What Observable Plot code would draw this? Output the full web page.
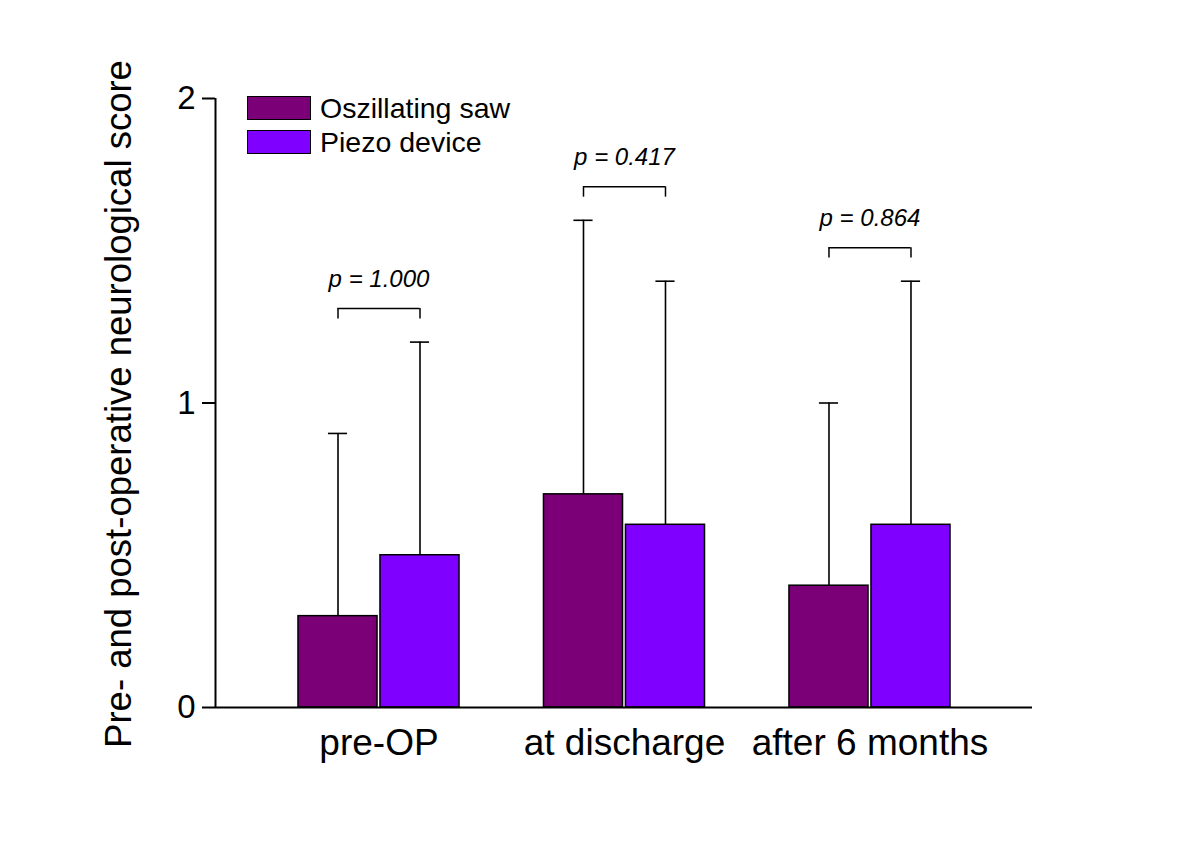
<!DOCTYPE html>
<html><head><meta charset="utf-8">
<script src="https://cdn.jsdelivr.net/npm/d3@7"></script>
<script src="https://cdn.jsdelivr.net/npm/@observablehq/plot@0.6"></script>
<style>
body{margin:0;background:#fff;}
#wrap{position:relative;width:1200px;height:848px;font-family:"Liberation Sans",Arial,sans-serif;}
#legend{position:absolute;left:247px;top:91px;}
.item{display:flex;align-items:center;height:34px;font-size:28.5px;color:#000;}
.sw{width:64px;height:24px;border:1.5px solid #000;margin-right:9px;box-sizing:border-box;}
</style></head><body><div id="wrap"><div id="legend"></div></div>
<script>
// ---- data ----
const categories = ["pre-OP", "at discharge", "after 6 months"];
const series = ["Oszillating saw", "Piezo device"];
const sawMean = [0.3, 0.7, 0.4];
const sawSD = [0.6, 0.9, 0.6];
const piezoMean = [0.5, 0.6, 0.6];
const piezoSD = [0.7, 0.8, 0.8];
const pLabels = ["p = 1.000", "p = 0.417", "p = 0.864"];
const bracketY = [1.31, 1.71, 1.51];
const yTicks = [0, 1, 2];
const yLabel = "Pre- and post-operative neurological score";
const colors = ["#7b0077", "#8000ff"];

// ---- layout helpers ----
const rows = categories.flatMap((c, i) => [
  {cat: c, i, series: series[0], mean: sawMean[i], sd: sawSD[i], side: -1},
  {cat: c, i, series: series[1], mean: piezoMean[i], sd: piezoSD[i], side: 1}
]);
const barW = 0.322, gap = 0.012, cap = 0.039, bracketTick = 0.034;
const bx1 = d => d.side < 0 ? d.i - gap / 2 - barW : d.i + gap / 2;
const bx2 = d => d.side < 0 ? d.i - gap / 2 : d.i + gap / 2 + barW;
const xc = d => d.i + d.side * (gap / 2 + barW / 2);
const off = gap / 2 + barW / 2;
const xDomain = [-0.666, 2.662];
const idx = categories.map((c, i) => i);

const chart = Plot.plot({
  width: 1200, height: 848,
  marginLeft: 215, marginRight: 168, marginTop: 98, marginBottom: 141,
  style: {fontFamily: "Liberation Sans, Arial, sans-serif", color: "#000", background: "#fff"},
  x: {domain: xDomain},
  y: {domain: [0, 2]},
  color: {domain: series, range: colors},
  marks: [
    Plot.ruleX(rows, {x: xc, y1: d => d.mean, y2: d => d.mean + d.sd, stroke: "#000", strokeWidth: 1.6}),
    Plot.ruleY(rows, {y: d => d.mean + d.sd, x1: d => xc(d) - cap, x2: d => xc(d) + cap, stroke: "#000", strokeWidth: 1.6}),
    Plot.rect(rows, {x1: bx1, x2: bx2, y1: 0, y2: d => d.mean, fill: "series", stroke: "#000", strokeWidth: 1.5}),
    Plot.ruleY(idx, {y: i => bracketY[i], x1: i => i - off, x2: i => i + off, stroke: "#000", strokeWidth: 1.5}),
    Plot.ruleX(idx, {x: i => i - off, y1: i => bracketY[i] - bracketTick, y2: i => bracketY[i], stroke: "#000", strokeWidth: 1.5}),
    Plot.ruleX(idx, {x: i => i + off, y1: i => bracketY[i] - bracketTick, y2: i => bracketY[i], stroke: "#000", strokeWidth: 1.5}),
    Plot.text(idx, {x: i => i, y: i => bracketY[i], text: i => pLabels[i], dy: -29, fontSize: 24, fontStyle: "italic", fill: "#000"}),
    Plot.ruleY([0], {stroke: "#000", strokeWidth: 2}),
    Plot.ruleX([xDomain[0]], {stroke: "#000", strokeWidth: 2}),
    Plot.axisY({ticks: yTicks, tickFormat: d3.format("d"), tickSize: 13, tickPadding: 7, fontSize: 33, label: null, strokeWidth: 2}),
    Plot.axisX({ticks: idx, tickFormat: i => categories[i], tickSize: 0, tickPadding: 21, fontSize: 37, label: null}),
    Plot.text([yLabel], {frameAnchor: "left", textAnchor: "middle", dx: -96, dy: 1, rotate: -90, fontSize: 36.5, fill: "#000"})
  ]
});
const wrap = document.getElementById("wrap");
wrap.insertBefore(chart, wrap.firstChild);

const legend = document.getElementById("legend");
series.forEach((s, k) => {
  const item = document.createElement("div");
  item.className = "item";
  const sw = document.createElement("div");
  sw.className = "sw";
  sw.style.background = colors[k];
  const t = document.createElement("span");
  t.textContent = s;
  item.appendChild(sw); item.appendChild(t);
  legend.appendChild(item);
});
</script>
</body></html>
